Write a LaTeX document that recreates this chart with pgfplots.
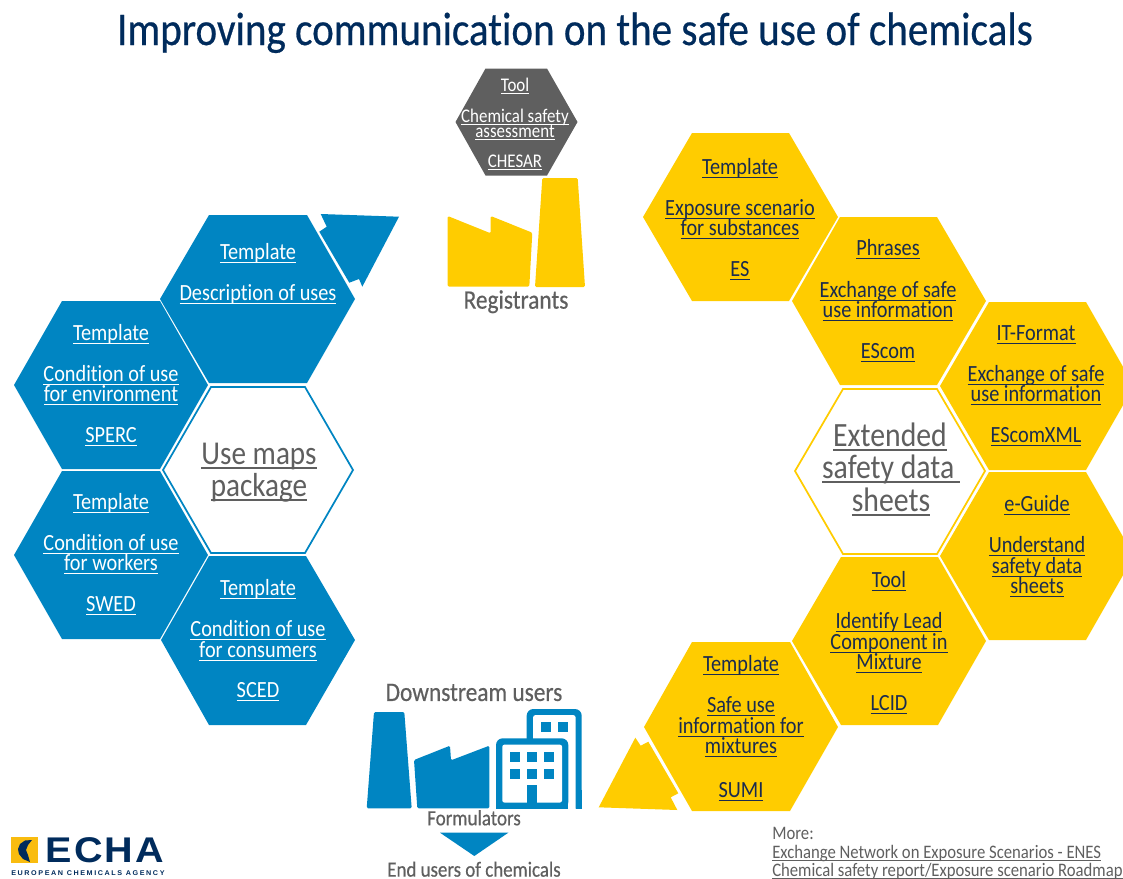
\documentclass[border=0pt]{standalone}
\usepackage{fontspec}
\setmainfont{Carlito}[FakeStretch=0.875,Ligatures=NoCommon]
\newfontfamily\logofont{Liberation Sans}[LetterSpace=5]
\newfontfamily\logosub{Liberation Sans}[LetterSpace=22]
\newfontfamily\headfont{Carlito}[FakeStretch=0.875,Ligatures=NoCommon,FakeBold=0.5]
\usepackage{graphicx}
\usepackage{pgfplots}
\pgfplotsset{compat=1.18}

\definecolor{echablue}{HTML}{0085C2}
\definecolor{echayellow}{HTML}{FFCC00}
\definecolor{echagrey}{HTML}{5F5F5F}
\definecolor{echanavy}{HTML}{002B5C}
\definecolor{hexnavy}{HTML}{1A2B4F}
\definecolor{logoyellow}{HTML}{F9BC0F}

\newcommand\ul[1]{\setbox0=\hbox{#1}\rlap{\vrule height -.07em depth .115em width \wd0}\box0}
% x y size colour text, y is the middle of the line in pixels
\newcommand\lab[5]{\node[anchor=base,inner sep=0pt,text=#4,yshift=-5.2pt,font=\fontsize{#3}{#3}\selectfont] at (axis cs:#1,#2) {\ul{#5}};}
\newcommand\head[5]{\node[anchor=base,inner sep=0pt,text=#4,yshift=-5.2pt,font=\headfont\fontsize{#3}{#3}\selectfont] at (axis cs:#1,#2) {#5};}
\newcommand\poly[2]{\addplot[fill=#1,draw=none,forget plot] coordinates {#2} -- cycle;}
\newcommand\rpoly[2]{\addplot[fill=#1,draw=none,forget plot,rounded corners=1pt] coordinates {#2} -- cycle;}

\begin{document}
\begin{tikzpicture}
\useasboundingbox (0,0) rectangle (842.25pt,658.5pt);
\begin{axis}[
  x=0.75pt, y=0.75pt,
  xmin=0, xmax=1123, ymin=0, ymax=878,
  y dir=reverse,
  hide axis, no markers,
]
% blue hexagons
\poly{echablue}{(160,299)(209,215)(307,215)(355,299)(307,383)(209,383)}
\poly{echablue}{(14,385)(62,301)(160,301)(208,385)(160,469)(62,469)}
\poly{echablue}{(14,555)(62,471)(160,471)(208,555)(160,639)(62,639)}
\poly{echablue}{(161,640)(209,556)(306,556)(355,640)(306,725)(209,725)}
\addplot[fill=white,draw=echablue,line width=1.3pt,forget plot] coordinates {(163,470)(211,387)(305,387)(353,470)(305,553)(211,553)} -- cycle;
% yellow hexagons
\poly{echayellow}{(643,217)(692,133)(789,133)(838,217)(789,301)(692,301)}
\poly{echayellow}{(792,301)(840,217)(937,217)(986,301)(937,385)(840,385)}
\poly{echayellow}{(940,386)(989,302)(1086,302)(1134,386)(1086,470)(989,470)}
\poly{echayellow}{(940,556)(989,472)(1086,472)(1134,556)(1086,640)(989,640)}
\poly{echayellow}{(792,641)(841,557)(938,557)(986,641)(938,725)(841,725)}
\poly{echayellow}{(644,727)(692,642)(790,642)(838,727)(790,811)(692,811)}
\addplot[fill=white,draw=echayellow,line width=1.3pt,forget plot] coordinates {(795,471)(843,389)(937,389)(985,471)(937,554)(843,554)} -- cycle;
% grey hexagon
\poly{echagrey}{(455.5,122)(485.5,68.5)(547,68.5)(577.5,122)(547,175.5)(485.5,175.5)}
% arrows
\poly{echablue}{(320.7,214)(399,216.7)(362.3,286.7)(359,279)(349.3,282.7)(319.3,231.7)(326.7,226.7)}
\poly{echayellow}{(598.7,807.3)(635.3,737.7)(640.7,745.7)(648.3,741.7)(678.3,793.3)(670.7,797.3)(677.3,810)}
\poly{echablue}{(440,832.7)(508.3,832.7)(474.3,856)}
% registrants factory
\rpoly{echayellow}{(447.7,216)(490.7,233.3)(490.7,216)(532.3,232.7)(529.3,286.7)(447.7,286.7)}
\rpoly{echayellow}{(542.3,178)(577.7,178)(585,287)(535,287)}
% downstream users factory and buildings
\rpoly{echablue}{(374,712)(404.3,712)(411.7,808.3)(366.7,808.3)}
\rpoly{echablue}{(414,760)(450,745.7)(451,760.3)(489.3,745.7)(489.3,808.3)(417.3,808.3)}
\addplot[fill=echablue,draw=none,forget plot,rounded corners=5pt] coordinates {(526.7,808.7)(526.7,709)(581.7,709)(581.7,808.7)} -- cycle;
\poly{echablue}{(575.7,790)(581.7,790)(581.7,808.7)(575.7,808.7)}
\addplot[fill=white,draw=none,forget plot,rounded corners=2pt] coordinates {(533,822)(533,715)(575.7,715)(575.7,822)} -- cycle;
\addplot[fill=echablue,draw=none,forget plot,rounded corners=5pt] coordinates {(496,808.7)(496,738.3)(568.3,738.3)(568.3,808.7)} -- cycle;
\poly{echablue}{(496,790)(568.3,790)(568.3,808.7)(496,808.7)}
\addplot[fill=white,draw=none,forget plot,rounded corners=1.5pt] coordinates {(502.3,802.5)(502.3,744.7)(562,744.7)(562,802.5)} -- cycle;
\poly{echablue}{(526.7,785)(536.7,785)(536.7,802.5)(526.7,802.5)}
\poly{echablue}{(510,751.7)(520,751.7)(520,762)(510,762)}
\poly{echablue}{(527,751.7)(537,751.7)(537,762)(527,762)}
\poly{echablue}{(544,751.7)(554,751.7)(554,762)(544,762)}
\poly{echablue}{(510,768.7)(520,768.7)(520,779)(510,779)}
\poly{echablue}{(527,768.7)(537,768.7)(537,779)(527,779)}
\poly{echablue}{(544,768.7)(554,768.7)(554,779)(544,779)}
\poly{echablue}{(541,722)(551,722)(551,732)(541,732)}
\poly{echablue}{(558,722)(568,722)(568,732)(558,732)}
% logo
\poly{logoyellow}{(11,837)(37.7,837)(37.7,863)(11,863)}
\poly{echanavy}{(32,840)(25,840.5)(20,844)(18,849)(19,854)(23,859)(30,862)(28,855)(26,850)(28,845)}

% title
\node[anchor=base,inner sep=0pt,text=echanavy,font=\headfont\fontsize{35.2}{35.2}\selectfont] at (axis cs:575,45) {Improving communication on the safe use of chemicals};
% blue hexagon text
\lab{258}{253}{17.4}{white}{Template}
\lab{258}{294}{17.4}{white}{Description of uses}
\lab{111}{334}{17.4}{white}{Template}
\lab{111}{375}{17.4}{white}{Condition of use}
\lab{111}{395}{17.4}{white}{for environment}
\lab{111}{436}{17.4}{white}{SPERC}
\lab{111}{503}{17.4}{white}{Template}
\lab{111}{544}{17.4}{white}{Condition of use}
\lab{111}{564}{17.4}{white}{for workers}
\lab{111}{605}{17.4}{white}{SWED}
\lab{258}{589}{17.4}{white}{Template}
\lab{258}{630}{17.4}{white}{Condition of use}
\lab{258}{651}{17.4}{white}{for consumers}
\lab{258}{691}{17.4}{white}{SCED}
\lab{259}{458}{25}{echagrey}{Use maps}
\lab{259}{490}{25}{echagrey}{package}
% grey hexagon text
\lab{515}{85}{14.5}{white}{Tool}
\lab{515}{116}{14.5}{white}{Chemical safety}
\lab{515}{131}{14.5}{white}{assessment}
\lab{515}{161}{14.5}{white}{CHESAR}
% yellow hexagon text
\lab{740}{168}{17.4}{hexnavy}{Template}
\lab{740}{209}{17.4}{hexnavy}{Exposure scenario}
\lab{740}{229}{17.4}{hexnavy}{for substances}
\lab{740}{270}{17.4}{hexnavy}{ES}
\lab{888}{249}{17.4}{hexnavy}{Phrases}
\lab{888}{291}{17.4}{hexnavy}{Exchange of safe}
\lab{888}{311}{17.4}{hexnavy}{use information}
\lab{888}{352}{17.4}{hexnavy}{EScom}
\lab{1036}{334}{17.4}{hexnavy}{IT-Format}
\lab{1036}{375}{17.4}{hexnavy}{Exchange of safe}
\lab{1036}{395}{17.4}{hexnavy}{use information}
\lab{1036}{436}{17.4}{hexnavy}{EScomXML}
\lab{890}{440}{25.5}{echagrey}{Extended}
\lab{891}{472}{25.5}{echagrey}{safety data\,}
\lab{891}{505}{25.5}{echagrey}{sheets}
\lab{1037}{505}{17.4}{hexnavy}{e-Guide}
\lab{1037}{546}{17.4}{hexnavy}{Understand}
\lab{1037}{567}{17.4}{hexnavy}{safety data}
\lab{1037}{587}{17.4}{hexnavy}{sheets}
\lab{889}{581}{17.4}{hexnavy}{Tool}
\lab{889}{622}{17.4}{hexnavy}{Identify Lead}
\lab{889}{643}{17.4}{hexnavy}{Component in}
\lab{889}{663}{17.4}{hexnavy}{Mixture}
\lab{889}{704}{17.4}{hexnavy}{LCID}
\lab{741}{665}{17.4}{hexnavy}{Template}
\lab{741}{706}{17.4}{hexnavy}{Safe use}
\lab{741}{727}{17.4}{hexnavy}{information for}
\lab{741}{747}{17.4}{hexnavy}{mixtures}
\lab{741}{791}{17.4}{hexnavy}{SUMI}
% actors
\head{516}{301.7}{20}{echagrey}{Registrants}
\head{474}{694}{20}{echagrey}{Downstream users}
\head{474}{818.3}{16.3}{echagrey}{Formulators}
\head{474}{869.7}{16.2}{echagrey}{End users of chemicals}
% more links
\node[anchor=base west,inner sep=0pt,text=echagrey,yshift=-4pt,font=\fontsize{14.3}{14.3}\selectfont] at (axis cs:772,834.5) {More:};
\node[anchor=base west,inner sep=0pt,text=echagrey,yshift=-4pt,font=\fontsize{14.3}{14.3}\selectfont] at (axis cs:772,853) {\ul{Exchange Network on Exposure Scenarios - ENES}};
\node[anchor=base west,inner sep=0pt,text=echagrey,yshift=-4pt,font=\fontsize{14.3}{14.3}\selectfont] at (axis cs:772,871.4) {\ul{Chemical safety report/Exposure scenario Roadmap}};
% logo text
\node[anchor=south west,inner sep=0pt,text=echanavy] at (axis cs:45.7,863) {\resizebox{88.5pt}{18.7pt}{\logofont\bfseries ECHA}};
\node[anchor=south west,inner sep=0pt,text=echanavy] at (axis cs:11,875.5) {\resizebox{115pt}{3.6pt}{\logosub\bfseries EUROPEAN CHEMICALS AGENCY}};
\end{axis}
\end{tikzpicture}
\end{document}
